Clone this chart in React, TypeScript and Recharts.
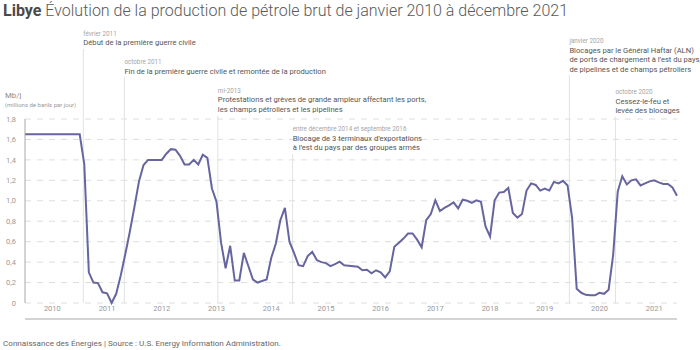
import { CartesianGrid, Line, LineChart, ReferenceLine, XAxis, YAxis } from "recharts";

// Production mensuelle de pétrole brut, Libye, janv. 2010 → déc. 2021 (Mb/j)
const PRODUCTION = [
  1.65, 1.65, 1.65, 1.65, 1.65, 1.65, 1.65, 1.65, 1.65, 1.65, 1.65, 1.65,
  1.65, 1.36, 0.3, 0.2, 0.195, 0.105, 0.095, 0, 0.09, 0.27, 0.48, 0.7,
  0.94, 1.19, 1.35, 1.4, 1.4, 1.4, 1.4, 1.46, 1.505, 1.5, 1.44, 1.355,
  1.355, 1.4, 1.355, 1.45, 1.42, 1.12, 0.99, 0.59, 0.34, 0.56, 0.22, 0.22,
  0.49, 0.36, 0.23, 0.2, 0.215, 0.23, 0.44, 0.58, 0.81, 0.93, 0.6, 0.49,
  0.37, 0.36, 0.46, 0.5, 0.42, 0.4, 0.39, 0.36, 0.38, 0.405, 0.37, 0.365,
  0.36, 0.355, 0.32, 0.325, 0.29, 0.32, 0.3, 0.25, 0.31, 0.55, 0.59, 0.63,
  0.68, 0.68, 0.62, 0.545, 0.81, 0.87, 1.005, 0.9, 0.93, 0.955, 0.985, 0.925,
  1.01, 1.0, 0.98, 1.005, 0.99, 0.75, 0.65, 1.005, 1.08, 1.085, 1.125, 0.88,
  0.835, 0.87, 1.1, 1.17, 1.155, 1.1, 1.12, 1.1, 1.185, 1.17, 1.195, 1.15,
  0.83, 0.14, 0.1, 0.08, 0.075, 0.075, 0.1, 0.09, 0.13, 0.47, 1.09, 1.24,
  1.16, 1.2, 1.21, 1.15, 1.17, 1.19, 1.2, 1.18, 1.165, 1.165, 1.13, 1.05,
];

const YEARS = ["2010", "2011", "2012", "2013", "2014", "2015", "2016", "2017", "2018", "2019", "2020", "2021"];
const YEAR_BOUNDS = [0, 12, 24, 36, 48, 60, 72, 84, 96, 108, 120, 132, 143];
const YEAR_MIDS = [6, 18, 30, 42, 54, 66, 78, 90, 102, 114, 126, 138];
const Y_TICKS = [0, 0.2, 0.4, 0.6, 0.8, 1.0, 1.2, 1.4, 1.6, 1.8];

// Événements annotés : position (mois), haut du trait (Mb/j), date, texte
const EVENT_X = [12.8, 21.8, 42.3, 58.7, 119.4, 129.5];
const EVENT_TOP = [2.485, 2.21, 1.835, 1.458, 2.23, 1.82];
const EVENT_DATES = [
  "février 2011",
  "octobre 2011",
  "mi-2013",
  "entre décembre 2014 et septembre 2016",
  "janvier 2020",
  "octobre 2020",
];
const EVENT_TEXTS = [
  ["Début de la première guerre civile"],
  ["Fin de la première guerre civile et remontée de la production"],
  ["Protestations et grèves de grande ampleur affectant les ports,", "les champs pétroliers et les pipelines"],
  ["Blocage de 3 terminaux d’exportations", "à l’est du pays par des groupes armés"],
  ["Blocages par le Général Haftar (ALN)", "de ports de chargement à l’est du pays,", "de pipelines et de champs pétroliers"],
  ["Cessez-le-feu et", "levée des blocages"],
];

const LINE_COLOR = "#67659f";
const AXIS_GREY = "#a8a8a8";
const FONT = "Roboto, 'Noto Sans', sans-serif";

function fmtY(v: number): string {
  return v === 0 ? "0" : v.toFixed(1).replace(".", ",");
}

function eventLabel(k: number) {
  return (props: any) => {
    const vb = props.viewBox || {};
    const x = vb.x ?? 0;
    const base = (vb.y ?? 0) - 3.5;
    const lines = EVENT_TEXTS[k];
    return (
      <g style={{ fontFamily: FONT }}>
        <text x={x} y={base - (lines.length - 1) * 9.5 - 9.5} fontSize={6.3} fill="#a5a5a5">
          {EVENT_DATES[k]}
        </text>
        {lines.map((t, j) => (
          <text key={j} x={x} y={base - (lines.length - 1 - j) * 9.5} fontSize={7.6} fill="#555">
            {t}
          </text>
        ))}
      </g>
    );
  };
}

export default function App() {
  const rows = PRODUCTION.map((v, i) => ({ i, v }));
  return (
    <div style={{ position: "absolute", left: 0, top: 0, width: 700, height: 350, background: "#fff", fontFamily: FONT }}>
      <div style={{ position: "absolute", left: 3, top: 2, fontSize: 16, lineHeight: "18px", color: "#595959", fontWeight: 300, whiteSpace: "nowrap" }}>
        <span style={{ fontWeight: 700, color: "#4a4a4a" }}>Libye</span> Évolution de la production de pétrole brut de janvier 2010 à décembre 2021
      </div>
      <div style={{ position: "absolute", left: 5, top: 92, fontSize: 7.8, lineHeight: "8px", color: "#8a8a8a" }}>Mb/j</div>
      <div style={{ position: "absolute", left: 5, top: 101, fontSize: 6, lineHeight: "7px", color: "#9a9a9a" }}>
        (millions de barils par jour)
      </div>
      <LineChart width={700} height={350} data={rows} margin={{ top: 119, right: 23, bottom: 27, left: 0 }}>
        <CartesianGrid vertical={false} stroke="#dedede" strokeDasharray="6 6" />
        <XAxis
          xAxisId="m"
          dataKey="i"
          type="number"
          domain={[0, 143]}
          ticks={YEAR_BOUNDS}
          interval={0}
          tick={false}
          tickSize={4}
          height={4}
          stroke={AXIS_GREY}
        />
        <XAxis
          xAxisId="lbl"
          type="number"
          domain={[0, 143]}
          ticks={YEAR_MIDS}
          interval={0}
          tickFormatter={(v: number) => YEARS[Math.round((v - 6) / 12)]}
          axisLine={false}
          tickLine={false}
          tickSize={0}
          tickMargin={3}
          height={16}
          tick={{ fill: "#9a9a9a", fontSize: 7.5, fontFamily: FONT }}
        />
        <YAxis
          domain={[0, 1.8]}
          ticks={Y_TICKS}
          interval={0}
          width={25}
          tickFormatter={fmtY}
          tickLine={false}
          tickSize={0}
          tickMargin={9}
          stroke={AXIS_GREY}
          tick={{ fill: "#9a9a9a", fontSize: 7.5, fontFamily: FONT }}
        />
        {EVENT_X.map((x, k) => (
          <ReferenceLine
            key={k}
            xAxisId="m"
            segment={[{ x, y: 0 }, { x, y: EVENT_TOP[k] }]}
            stroke="#e2e2e2"
            strokeWidth={1}
            ifOverflow="visible"
            label={eventLabel(k)}
          />
        ))}
        <Line
          xAxisId="m"
          type="linear"
          dataKey="v"
          stroke={LINE_COLOR}
          strokeWidth={2}
          dot={false}
          isAnimationActive={false}
        />
      </LineChart>
      <div style={{ position: "absolute", left: 3, top: 339, fontSize: 8.1, lineHeight: "9px", color: "#666", whiteSpace: "nowrap" }}>
        Connaissance des Énergies | Source : U.S. Energy Information Administration.
      </div>
    </div>
  );
}
